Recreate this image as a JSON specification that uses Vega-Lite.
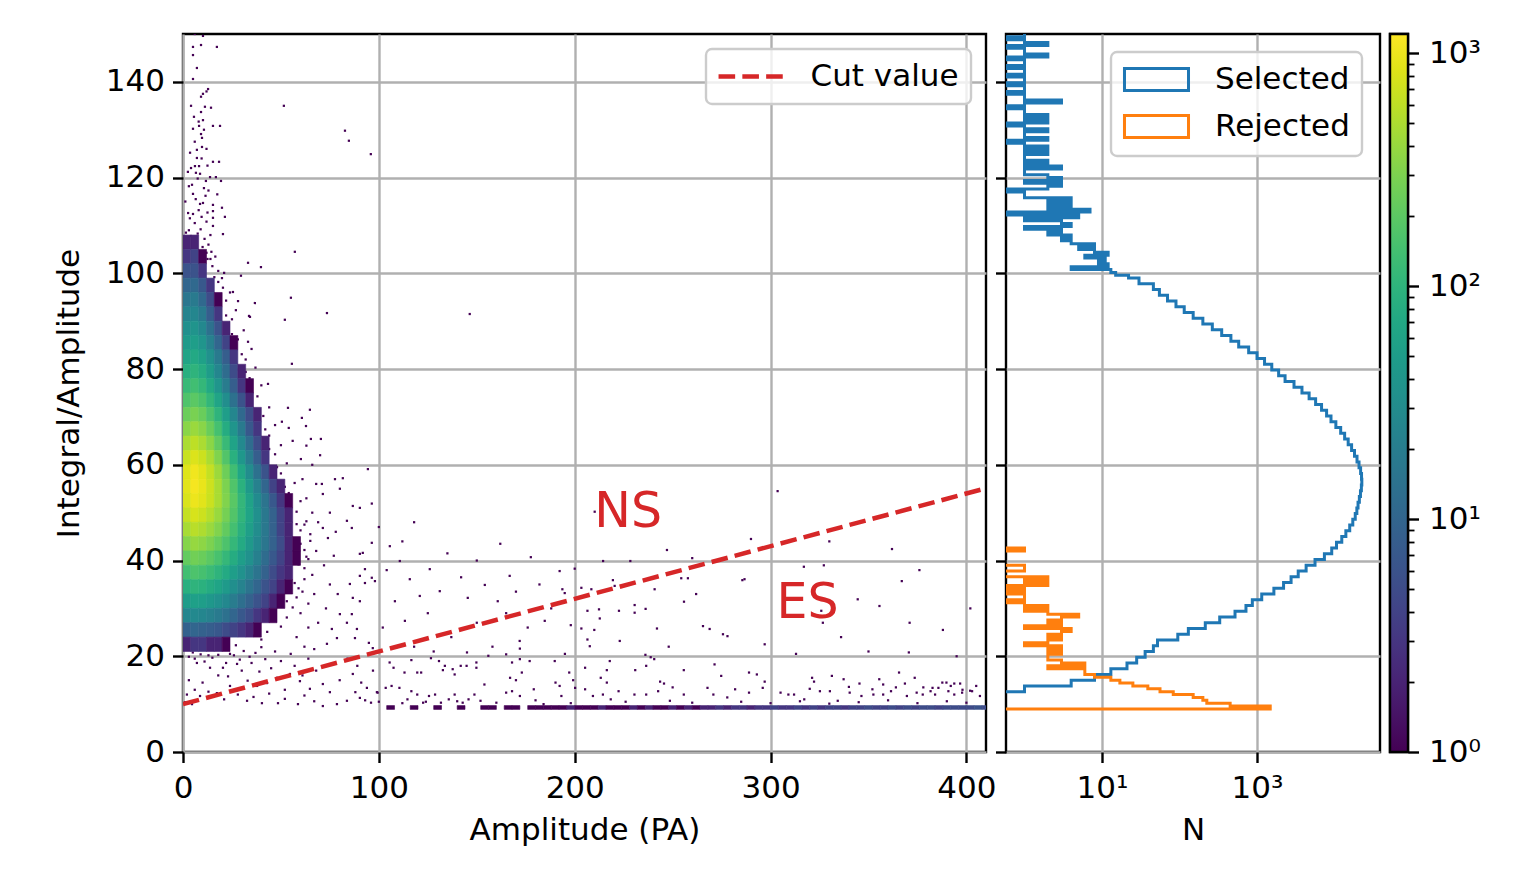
{
"$schema":"https://vega.github.io/schema/vega-lite/v6.json",
"padding":{"left":52,"top":31,"right":5,"bottom":5},
"spacing":20,
"bounds":"flush",
"resolve":{"scale":{"color":"independent","fill":"independent","stroke":"independent"},"legend":{"color":"independent"}},
"hconcat":[
{"width":803,"height":718,
"layer":[
{"data":{"values":[
{"a":10.2,"b":149.6},{"a":5.1,"b":147.3},{"a":9.2,"b":147.7},{"a":17.3,"b":147.3},{"a":5.1,"b":145.6},{"a":7.1,"b":142.9},{"a":5.1,"b":140.6},{"a":12.8,"b":138.5},{"a":10.2,"b":137.5},{"a":9.2,"b":136.9},{"a":51.5,"b":135},{"a":4.1,"b":135},{"a":14.3,"b":134.6},{"a":11.2,"b":134.8},{"a":5.6,"b":132.7},{"a":10.2,"b":132},{"a":9.2,"b":133.7},{"a":15.3,"b":130.8},{"a":18.9,"b":130.8},{"a":5.1,"b":130.2},{"a":8.2,"b":130.8},{"a":10.7,"b":130},{"a":82.7,"b":129.8},{"a":84.7,"b":127.7},{"a":95.9,"b":124.9},{"a":9.7,"b":128.3},{"a":9.2,"b":129.1},{"a":7.1,"b":125.8},{"a":9.7,"b":126.4},{"a":3.6,"b":125.2},{"a":7.1,"b":124.1},{"a":15.3,"b":123.3},{"a":18.4,"b":123.3},{"a":4.1,"b":122},{"a":6.1,"b":122.4},{"a":8.2,"b":122.4},{"a":6.6,"b":121},{"a":8.7,"b":120.8},{"a":13.8,"b":120.1},{"a":11.7,"b":119.3},{"a":16.8,"b":120.1},{"a":19.4,"b":119.3},{"a":10.7,"b":117.8},{"a":4.6,"b":118.5},{"a":5.1,"b":116.6},{"a":8.7,"b":114.5},{"a":10.2,"b":114.7},{"a":15.3,"b":114.3},{"a":19.9,"b":113.7},{"a":21.4,"b":111.8},{"a":15.3,"b":111.6},{"a":20.4,"b":108.2},{"a":15.3,"b":109.9},{"a":15.3,"b":113},{"a":2.6,"b":112.6},{"a":5.1,"b":112.4},{"a":57.1,"b":104.5},{"a":33.2,"b":102.2},{"a":39.8,"b":101.3},{"a":29.6,"b":99.5},{"a":55.1,"b":94.9},{"a":36.7,"b":93.8},{"a":73.5,"b":91.7},{"a":52,"b":90.3},{"a":28.1,"b":94.2},{"a":33.7,"b":91.1},{"a":55.6,"b":81.1},{"a":19.9,"b":99},{"a":20.4,"b":97},{"a":25.5,"b":96.1},
{"a":3,"b":109},{"a":6,"b":110.5},{"a":9,"b":109.2},{"a":12,"b":110.8},{"a":4,"b":107.8},{"a":7.5,"b":108.3},{"a":11,"b":107.2},{"a":13,"b":106},{"a":14.5,"b":104.5},{"a":3.5,"b":111.5},{"a":8,"b":113.2},{"a":12.5,"b":112.7},{"a":6.5,"b":115.5},{"a":11.5,"b":116.2},{"a":3,"b":118.2},{"a":13,"b":117.3},{"a":7.5,"b":119.8},{"a":2.5,"b":121.2},{"a":12.5,"b":122.5},{"a":9.5,"b":124},{"a":6,"b":127.5},{"a":12,"b":126},{"a":8,"b":131.7},{"a":12,"b":138},{"a":6,"b":150},{"a":1.5,"b":108.5},{"a":10,"b":105.5},{"a":12.5,"b":103},{"a":15,"b":101.5},{"a":16.5,"b":103.5},{"a":18,"b":100.5},{"a":9.5,"b":111.8},{"a":1.2,"b":115},{"a":17.5,"b":116.5},{"a":14,"b":108},
{"a":12,"b":104.3},{"a":14,"b":103},{"a":16,"b":99.2},{"a":18,"b":98.2},{"a":21,"b":100.1},{"a":19,"b":95.4},{"a":22,"b":94.3},{"a":24,"b":96},{"a":22,"b":91.2},{"a":25,"b":90.4},{"a":27,"b":92.3},{"a":25,"b":87.3},{"a":28,"b":86.2},{"a":31,"b":88.1},{"a":30,"b":83.1},{"a":32,"b":82},{"a":35,"b":84.2},{"a":32,"b":79.4},{"a":34,"b":78.1},{"a":37,"b":80.3},{"a":35,"b":75.2},{"a":38,"b":74.3},{"a":40,"b":76.6},{"a":38,"b":71.5},{"a":41,"b":70.2},{"a":44,"b":72},{"a":42,"b":67.4},{"a":44,"b":66.1},{"a":47,"b":68.3},{"a":44,"b":63.3},{"a":47,"b":62.2},{"a":50,"b":64.1},{"a":48,"b":59.5},{"a":50,"b":58.2},{"a":53,"b":60.3},{"a":52,"b":55.4},{"a":54,"b":54.1},{"a":57,"b":56.2},{"a":55,"b":51.3},{"a":58,"b":50.2},{"a":60,"b":52.4},{"a":58,"b":47.6},{"a":60,"b":46.3},{"a":63,"b":48.2},{"a":60,"b":43.5},{"a":62,"b":42.2},{"a":65,"b":44.1},{"a":59,"b":39.2},{"a":62,"b":38.4},{"a":64,"b":40.3},{"a":57,"b":35.3},{"a":59,"b":34.2},{"a":62,"b":36.1},{"a":53,"b":31.5},{"a":56,"b":30.2},{"a":58,"b":32.3},{"a":47,"b":27.4},{"a":50,"b":26.2},{"a":53,"b":28.1},{"a":36,"b":24.3},{"a":40,"b":23.5},{"a":43,"b":25.1},
{"a":5,"b":20.8},{"a":13,"b":20.2},{"a":24,"b":20.5},{"a":27,"b":22.3},{"a":31,"b":21.1},{"a":34,"b":19.9},{"a":6,"b":19.5},{"a":11,"b":18.9},{"a":15,"b":19.7},{"a":22,"b":18.6},{"a":29,"b":19.3},{"a":37,"b":20.7},{"a":40,"b":21.9},{"a":18,"b":20.3},{"a":3,"b":19.9},{"a":9,"b":20.4},
{"a":34.2,"b":90.9},{"a":33.2,"b":85.7},{"a":43.4,"b":76.9},{"a":53.6,"b":71.9},{"a":64.8,"b":71.5},{"a":60.7,"b":69.8},{"a":62.8,"b":68.1},{"a":65.3,"b":65.4},{"a":70.4,"b":65.4},{"a":50.5,"b":69},{"a":54,"b":67.7},
{"a":60.2,"b":61.2},{"a":94.4,"b":59.1},{"a":77.6,"b":57},{"a":81.6,"b":57.2},{"a":86.7,"b":51.4},{"a":90.3,"b":51},{"a":96.4,"b":51.9},{"a":96.4,"b":43.7},{"a":70.9,"b":56},{"a":71.4,"b":53.9},{"a":80.1,"b":55},{"a":71.4,"b":46.8},{"a":83.7,"b":48.3},{"a":86.2,"b":46.8},{"a":74,"b":44.7},{"a":90.3,"b":41.4},{"a":91.8,"b":41.6},{"a":92.9,"b":38.2},{"a":90.3,"b":36.8},{"a":96.4,"b":36.4},{"a":92.9,"b":35.3},{"a":85.2,"b":35.1},{"a":86.7,"b":32.2},{"a":86.2,"b":28.8},{"a":88.8,"b":25.7},{"a":87.8,"b":23.8},{"a":94.9,"b":22.8},{"a":96.9,"b":21.7},{"a":80.1,"b":28.8},{"a":83.7,"b":27},{"a":76,"b":25.7},{"a":78.6,"b":23.8},{"a":73.5,"b":22.6},{"a":86.7,"b":16.3},{"a":93.9,"b":13.4},{"a":90.3,"b":11.3},{"a":83.7,"b":10.7},{"a":78.6,"b":10},{"a":71.4,"b":9.6},{"a":58.7,"b":10},{"a":48.5,"b":10.2},{"a":40.3,"b":10.2},{"a":32.7,"b":10.7},{"a":71.4,"b":14.2},{"a":64.8,"b":13.2},{"a":59.7,"b":14.8},{"a":54.6,"b":16.3},{"a":48,"b":15.5},{"a":42.9,"b":14.4},{"a":37.8,"b":13.8},{"a":24,"b":13.8},{"a":17.3,"b":12.3},{"a":8.7,"b":11.7},{"a":4.6,"b":10},{"a":20.4,"b":17.6},{"a":27.6,"b":18.4},{"a":13.8,"b":17.6},{"a":7.1,"b":18.6},
{"a":61,"b":57},{"a":63,"b":53},{"a":66,"b":50},{"a":62,"b":47.5},{"a":65,"b":45.5},{"a":68,"b":42},{"a":63,"b":40.8},{"a":66,"b":37},{"a":61,"b":33.5},{"a":64,"b":31},{"a":60,"b":29},{"a":67,"b":33},{"a":69,"b":48},{"a":72,"b":39},{"a":75,"b":35},{"a":64,"b":26},{"a":58,"b":24},{"a":62,"b":22},{"a":69,"b":27},{"a":73,"b":30},{"a":77,"b":41},{"a":79,"b":33},{"a":66,"b":60},{"a":68,"b":56},{"a":75,"b":50},{"a":78,"b":46},{"a":70,"b":62},{"a":63,"b":64},{"a":56,"b":65},
{"a":3,"b":15},{"a":10,"b":14.5},{"a":18,"b":16},{"a":23,"b":15.8},{"a":26,"b":20.2},{"a":30,"b":17},{"a":33,"b":14.9},{"a":35,"b":18.6},{"a":39,"b":16.8},{"a":42,"b":19.4},{"a":45,"b":17.5},{"a":47,"b":21},{"a":50,"b":19},{"a":52,"b":13},{"a":55,"b":20.5},{"a":57,"b":18},{"a":61,"b":16},{"a":64,"b":19.5},{"a":67,"b":21.5},{"a":68,"b":17},{"a":6,"b":13},{"a":13,"b":12.6},{"a":21,"b":11},{"a":28,"b":12},{"a":36,"b":11.5},{"a":44,"b":12.2},{"a":52,"b":11.1},{"a":62,"b":11.8},{"a":67,"b":10.6},{"a":75,"b":12.5},{"a":80,"b":15},{"a":84,"b":19.5},{"a":89,"b":18},{"a":91,"b":14.5},{"a":97,"b":17},{"a":99,"b":12.5},{"a":1,"b":10.4},{"a":2,"b":12},
{"a":146.4,"b":91.5},{"a":303.6,"b":54.5},{"a":362,"b":42.4},{"a":367,"b":35.7},{"a":355.6,"b":30.5},{"a":286.7,"b":36.1},{"a":268.9,"b":25.7},{"a":278,"b":24.2},{"a":238.8,"b":19.8},{"a":177.6,"b":40.7},{"a":194.9,"b":33.2},{"a":166.8,"b":36.8},{"a":160.7,"b":31.5},{"a":154.1,"b":34.9},{"a":145.4,"b":32.2},{"a":126,"b":38.2},{"a":131.1,"b":33.6},{"a":120.9,"b":32.6},{"a":115.8,"b":36.1},{"a":108.2,"b":31.5},{"a":113.3,"b":27.4},{"a":184.7,"b":27.4},{"a":171.9,"b":23.2},{"a":189.8,"b":19},{"a":207.7,"b":22.1},{"a":223,"b":23.2},{"a":217.9,"b":19},{"a":192.3,"b":13.8},{"a":105.6,"b":43},{"a":110.7,"b":39.9},{"a":98,"b":35.7},{"a":90.3,"b":31.5},
{"a":210.2,"b":50.2},{"a":247.1,"b":42.2},{"a":214.5,"b":39.9},{"a":228.4,"b":39.9},{"a":192.3,"b":37.8},{"a":193.7,"b":34},{"a":203.4,"b":34.3},{"a":208.5,"b":34},{"a":219.5,"b":35.9},{"a":220.4,"b":34.7},{"a":240.8,"b":34},{"a":254.4,"b":36.3},{"a":257.8,"b":36.3},{"a":285.6,"b":35.9},{"a":255.8,"b":31.4},{"a":206.5,"b":29.5},{"a":212.4,"b":29.8},{"a":212.8,"b":27.9},{"a":222.6,"b":29.5},{"a":230.6,"b":30.7},{"a":230.6,"b":29.1},{"a":236.2,"b":29.9},{"a":203.4,"b":25.8},{"a":206.5,"b":23.5},{"a":242,"b":25.8},{"a":265.5,"b":26.3},{"a":275.7,"b":24.6},{"a":317,"b":38.7},{"a":327.2,"b":39},{"a":325.9,"b":29.5},{"a":326.7,"b":27},{"a":344.5,"b":31.9},
{"a":102,"b":26},{"a":118,"b":22},{"a":125,"b":29},{"a":137,"b":24},{"a":142,"b":36.5},{"a":150,"b":27},{"a":158,"b":22},{"a":165,"b":29},{"a":170,"b":33.5},{"a":176,"b":26},{"a":182,"b":35},{"a":188,"b":30},{"a":198,"b":26.5},{"a":104,"b":38},{"a":112,"b":44},{"a":135,"b":41.5},{"a":150,"b":40},{"a":162,"b":43.5},{"a":128,"b":21},{"a":145,"b":20.8},{"a":172,"b":21.6},{"a":200,"b":38.3},{"a":195,"b":20.5},{"a":210,"b":25.5},{"a":248,"b":22},{"a":262,"b":33},{"a":297,"b":22.5},{"a":313,"b":20.5},{"a":336,"b":24},{"a":350,"b":21},{"a":371,"b":27},{"a":388,"b":25.5},{"a":395,"b":20},{"a":402,"b":30},{"a":376,"b":38},{"a":330,"b":44},{"a":290,"b":44.5},{"a":260,"b":40.5},{"a":118,"b":48},{"a":100,"b":47},
{"a":105.5,"b":18.7},{"a":107.5,"b":17.6},{"a":113.1,"b":16.6},{"a":116.6,"b":19.2},{"a":119.6,"b":16.6},{"a":121.6,"b":16.6},{"a":126.6,"b":19.6},{"a":130.7,"b":19},{"a":132.7,"b":17.1},{"a":133.7,"b":18},{"a":137.7,"b":17.3},{"a":138.7,"b":16.2},{"a":141.8,"b":18},{"a":144.8,"b":18},{"a":149.8,"b":18.7},{"a":149.8,"b":17.6},{"a":155.9,"b":20.1},{"a":165,"b":20.4},{"a":168,"b":18.7},{"a":172,"b":19.4},{"a":173,"b":16.6},{"a":177,"b":19},{"a":167,"b":15.5},{"a":170,"b":15},{"a":190.2,"b":14.5},{"a":197.2,"b":16.6},{"a":199.2,"b":15},{"a":205.3,"b":17.6},{"a":213.3,"b":15.5},{"a":216.4,"b":17.1},{"a":216.4,"b":14.5},{"a":230.9,"b":17.1},{"a":236.5,"b":18},{"a":240.6,"b":19.4},{"a":236.1,"b":20.3},{"a":243.6,"b":14.7},{"a":245.6,"b":14.3},{"a":255.7,"b":17.1},{"a":271.4,"b":18.3},{"a":274.8,"b":15.9},{"a":289,"b":16.6},{"a":293,"b":16.2},{"a":297,"b":14.7},{"a":321.2,"b":15.5},{"a":322.2,"b":14.7},{"a":331.3,"b":15.9},{"a":337.3,"b":15.2},{"a":345.4,"b":14.3},{"a":355.5,"b":15.2},{"a":365.6,"b":16.6},{"a":368.6,"b":14.3},{"a":373.6,"b":15.5},{"a":357.5,"b":14.1},{"a":382.7,"b":13.4},{"a":389.8,"b":14.5},{"a":393.8,"b":14.3},{"a":396.8,"b":14.3},{"a":401.9,"b":12.8},{"a":370.6,"b":20.8},
{"a":99.4,"b":12.4},{"a":103.5,"b":13.4},{"a":106.5,"b":13.8},{"a":110.5,"b":13.4},{"a":114.6,"b":11},{"a":116.6,"b":12.7},{"a":119.6,"b":12},{"a":122.6,"b":10.3},{"a":125.6,"b":11.7},{"a":128.7,"b":12},{"a":131.7,"b":10.3},{"a":135.7,"b":11},{"a":138.7,"b":12},{"a":142.8,"b":10.3},{"a":145.8,"b":11},{"a":148.8,"b":12},{"a":151.9,"b":10.7},{"a":153.9,"b":14.1},{"a":165,"b":12.4},{"a":168,"b":12.7},{"a":172,"b":11.7},{"a":179.1,"b":13.1},{"a":184.1,"b":10},{"a":193.2,"b":11.7},{"a":200.2,"b":13.4},{"a":205.3,"b":13.1},{"a":209.3,"b":11.7},{"a":214.4,"b":12},{"a":218.4,"b":11},{"a":222.4,"b":12.7},{"a":230.5,"b":12},{"a":236.5,"b":12},{"a":242.6,"b":12.7},{"a":248.6,"b":10.7},{"a":255.7,"b":12},{"a":267.8,"b":13.4},{"a":270.8,"b":12},{"a":277.9,"b":11.4},{"a":281.9,"b":13.1},{"a":289,"b":12.4},{"a":296,"b":13.4},{"a":305.1,"b":12.4},{"a":309.1,"b":12},{"a":317.2,"b":11},{"a":325.2,"b":12.7},{"a":330.3,"b":12.7},{"a":334.3,"b":10.7},{"a":340.4,"b":12.4},{"a":346.4,"b":11.7},{"a":352.5,"b":12},{"a":357.5,"b":12},{"a":361.5,"b":12.7},{"a":369.6,"b":11.7},{"a":374.6,"b":12.4},{"a":377.7,"b":12},{"a":381.7,"b":12.7},{"a":385.7,"b":13.4},{"a":387.7,"b":14.5},{"a":390.8,"b":12.7},{"a":393.8,"b":12},{"a":397.8,"b":12.4},{"a":402.9,"b":12.7},{"a":406.9,"b":11.7},
{"a":260,"b":10.3},{"a":285,"b":10.5},{"a":300,"b":10.2},{"a":315,"b":10.6},{"a":330,"b":10.1},{"a":345,"b":10.4},{"a":360,"b":10.8},{"a":375,"b":10.2},{"a":390,"b":10.6},{"a":400,"b":10.3},{"a":405,"b":13.8},{"a":398,"b":13},{"a":392,"b":13.8},{"a":384,"b":12},{"a":378,"b":13.5},{"a":364,"b":13.5},{"a":352,"b":13.1},{"a":340,"b":13.6},{"a":320,"b":13.2},{"a":312,"b":12},{"a":250,"b":13.5},{"a":226,"b":10.5},{"a":198,"b":10.2},{"a":180,"b":10.8},{"a":160,"b":10.3},{"a":140,"b":10.6},{"a":100,"b":10.5},{"a":112,"b":10.2},{"a":124,"b":10.5},{"a":96,"b":10.3},{"a":88,"b":12.5},{"a":93,"b":10.8}
]},
"mark":{"type":"square","size":5,"color":"#440154","opacity":1,"clip":true},
"encoding":{
"x":{"field":"a","type":"quantitative","scale":{"domain":[0,410],"nice":false},"axis":{"values":[0,100,200,300,400]},"title":"Amplitude (PA)"},
"y":{"field":"b","type":"quantitative","scale":{"domain":[0,150],"nice":false},"axis":{"values":[0,20,40,60,80,100,120,140]},"title":"Integral/Amplitude"}}},
{"data":{"values":[
{"a":2,"b":106.5,"n":2},{"a":6,"b":106.5,"n":2},
{"a":2,"b":103.5,"n":3},{"a":6,"b":103.5,"n":4},{"a":10,"b":103.5,"n":1},
{"a":2,"b":100.5,"n":6},{"a":6,"b":100.5,"n":6},{"a":10,"b":100.5,"n":3},
{"a":2,"b":97.5,"n":10},{"a":6,"b":97.5,"n":11},{"a":10,"b":97.5,"n":7},{"a":14,"b":97.5,"n":3},
{"a":2,"b":94.5,"n":16},{"a":6,"b":94.5,"n":18},{"a":10,"b":94.5,"n":11},{"a":14,"b":94.5,"n":5},{"a":18,"b":94.5,"n":1},
{"a":2,"b":91.5,"n":24},{"a":6,"b":91.5,"n":26},{"a":10,"b":91.5,"n":18},{"a":14,"b":91.5,"n":8},{"a":18,"b":91.5,"n":3},
{"a":2,"b":88.5,"n":34},{"a":6,"b":88.5,"n":38},{"a":10,"b":88.5,"n":27},{"a":14,"b":88.5,"n":14},{"a":18,"b":88.5,"n":6},{"a":22,"b":88.5,"n":2},
{"a":2,"b":85.5,"n":47},{"a":6,"b":85.5,"n":52},{"a":10,"b":85.5,"n":40},{"a":14,"b":85.5,"n":22},{"a":18,"b":85.5,"n":10},{"a":22,"b":85.5,"n":4},{"a":26,"b":85.5,"n":1},
{"a":2,"b":82.5,"n":63},{"a":6,"b":82.5,"n":72},{"a":10,"b":82.5,"n":57},{"a":14,"b":82.5,"n":35},{"a":18,"b":82.5,"n":18},{"a":22,"b":82.5,"n":8},{"a":26,"b":82.5,"n":3},
{"a":2,"b":79.5,"n":87},{"a":6,"b":79.5,"n":100},{"a":10,"b":79.5,"n":79},{"a":14,"b":79.5,"n":50},{"a":18,"b":79.5,"n":26},{"a":22,"b":79.5,"n":12},{"a":26,"b":79.5,"n":5},{"a":30,"b":79.5,"n":2},
{"a":2,"b":76.5,"n":120},{"a":6,"b":76.5,"n":138},{"a":10,"b":76.5,"n":112},{"a":14,"b":76.5,"n":72},{"a":18,"b":76.5,"n":40},{"a":22,"b":76.5,"n":19},{"a":26,"b":76.5,"n":8},{"a":30,"b":76.5,"n":3},{"a":34,"b":76.5,"n":1},
{"a":2,"b":73.5,"n":170},{"a":6,"b":73.5,"n":200},{"a":10,"b":73.5,"n":163},{"a":14,"b":73.5,"n":109},{"a":18,"b":73.5,"n":63},{"a":22,"b":73.5,"n":32},{"a":26,"b":73.5,"n":14},{"a":30,"b":73.5,"n":6},{"a":34,"b":73.5,"n":2},
{"a":2,"b":70.5,"n":245},{"a":6,"b":70.5,"n":288},{"a":10,"b":70.5,"n":240},{"a":14,"b":70.5,"n":165},{"a":18,"b":70.5,"n":99},{"a":22,"b":70.5,"n":52},{"a":26,"b":70.5,"n":26},{"a":30,"b":70.5,"n":11},{"a":34,"b":70.5,"n":5},{"a":38,"b":70.5,"n":2},
{"a":2,"b":67.5,"n":347},{"a":6,"b":67.5,"n":417},{"a":10,"b":67.5,"n":347},{"a":14,"b":67.5,"n":240},{"a":18,"b":67.5,"n":148},{"a":22,"b":67.5,"n":80},{"a":26,"b":67.5,"n":40},{"a":30,"b":67.5,"n":18},{"a":34,"b":67.5,"n":7},{"a":38,"b":67.5,"n":3},
{"a":2,"b":64.5,"n":500},{"a":6,"b":64.5,"n":603},{"a":10,"b":64.5,"n":500},{"a":14,"b":64.5,"n":355},{"a":18,"b":64.5,"n":218},{"a":22,"b":64.5,"n":121},{"a":26,"b":64.5,"n":61},{"a":30,"b":64.5,"n":28},{"a":34,"b":64.5,"n":12},{"a":38,"b":64.5,"n":5},{"a":42,"b":64.5,"n":2},
{"a":2,"b":61.5,"n":680},{"a":6,"b":61.5,"n":832},{"a":10,"b":61.5,"n":705},{"a":14,"b":61.5,"n":500},{"a":18,"b":61.5,"n":312},{"a":22,"b":61.5,"n":177},{"a":26,"b":61.5,"n":90},{"a":30,"b":61.5,"n":43},{"a":34,"b":61.5,"n":19},{"a":38,"b":61.5,"n":8},{"a":42,"b":61.5,"n":3},
{"a":2,"b":58.5,"n":850},{"a":6,"b":58.5,"n":1047},{"a":10,"b":58.5,"n":900},{"a":14,"b":58.5,"n":650},{"a":18,"b":58.5,"n":425},{"a":22,"b":58.5,"n":250},{"a":26,"b":58.5,"n":137},{"a":30,"b":58.5,"n":68},{"a":34,"b":58.5,"n":31},{"a":38,"b":58.5,"n":14},{"a":42,"b":58.5,"n":6},{"a":46,"b":58.5,"n":2},
{"a":2,"b":55.5,"n":890},{"a":6,"b":55.5,"n":1096},{"a":10,"b":55.5,"n":955},{"a":14,"b":55.5,"n":715},{"a":18,"b":55.5,"n":490},{"a":22,"b":55.5,"n":300},{"a":26,"b":55.5,"n":173},{"a":30,"b":55.5,"n":92},{"a":34,"b":55.5,"n":46},{"a":38,"b":55.5,"n":22},{"a":42,"b":55.5,"n":10},{"a":46,"b":55.5,"n":4},{"a":50,"b":55.5,"n":2},
{"a":2,"b":52.5,"n":813},{"a":6,"b":52.5,"n":1000},{"a":10,"b":52.5,"n":890},{"a":14,"b":52.5,"n":690},{"a":18,"b":52.5,"n":490},{"a":22,"b":52.5,"n":316},{"a":26,"b":52.5,"n":194},{"a":30,"b":52.5,"n":110},{"a":34,"b":52.5,"n":60},{"a":38,"b":52.5,"n":30},{"a":42,"b":52.5,"n":15},{"a":46,"b":52.5,"n":7},{"a":50,"b":52.5,"n":3},{"a":54,"b":52.5,"n":1},
{"a":2,"b":49.5,"n":650},{"a":6,"b":49.5,"n":794},{"a":10,"b":49.5,"n":710},{"a":14,"b":49.5,"n":560},{"a":18,"b":49.5,"n":410},{"a":22,"b":49.5,"n":277},{"a":26,"b":49.5,"n":178},{"a":30,"b":49.5,"n":107},{"a":34,"b":49.5,"n":62},{"a":38,"b":49.5,"n":34},{"a":42,"b":49.5,"n":17},{"a":46,"b":49.5,"n":9},{"a":50,"b":49.5,"n":4},{"a":54,"b":49.5,"n":2},
{"a":2,"b":46.5,"n":478},{"a":6,"b":46.5,"n":575},{"a":10,"b":46.5,"n":513},{"a":14,"b":46.5,"n":417},{"a":18,"b":46.5,"n":316},{"a":22,"b":46.5,"n":219},{"a":26,"b":46.5,"n":145},{"a":30,"b":46.5,"n":91},{"a":34,"b":46.5,"n":54},{"a":38,"b":46.5,"n":31},{"a":42,"b":46.5,"n":17},{"a":46,"b":46.5,"n":9},{"a":50,"b":46.5,"n":4},{"a":54,"b":46.5,"n":2},
{"a":2,"b":43.5,"n":331},{"a":6,"b":43.5,"n":398},{"a":10,"b":43.5,"n":363},{"a":14,"b":43.5,"n":300},{"a":18,"b":43.5,"n":229},{"a":22,"b":43.5,"n":165},{"a":26,"b":43.5,"n":113},{"a":30,"b":43.5,"n":74},{"a":34,"b":43.5,"n":46},{"a":38,"b":43.5,"n":27},{"a":42,"b":43.5,"n":16},{"a":46,"b":43.5,"n":9},{"a":50,"b":43.5,"n":5},{"a":54,"b":43.5,"n":2},{"a":58,"b":43.5,"n":1},
{"a":2,"b":40.5,"n":222},{"a":6,"b":40.5,"n":263},{"a":10,"b":40.5,"n":240},{"a":14,"b":40.5,"n":200},{"a":18,"b":40.5,"n":155},{"a":22,"b":40.5,"n":114},{"a":26,"b":40.5,"n":80},{"a":30,"b":40.5,"n":53},{"a":34,"b":40.5,"n":35},{"a":38,"b":40.5,"n":21},{"a":42,"b":40.5,"n":12},{"a":46,"b":40.5,"n":7},{"a":50,"b":40.5,"n":4},{"a":54,"b":40.5,"n":2},{"a":58,"b":40.5,"n":1},
{"a":2,"b":37.5,"n":141},{"a":6,"b":37.5,"n":166},{"a":10,"b":37.5,"n":151},{"a":14,"b":37.5,"n":126},{"a":18,"b":37.5,"n":100},{"a":22,"b":37.5,"n":74},{"a":26,"b":37.5,"n":53},{"a":30,"b":37.5,"n":36},{"a":34,"b":37.5,"n":23},{"a":38,"b":37.5,"n":15},{"a":42,"b":37.5,"n":9},{"a":46,"b":37.5,"n":5},{"a":50,"b":37.5,"n":3},{"a":54,"b":37.5,"n":2},
{"a":2,"b":34.5,"n":87},{"a":6,"b":34.5,"n":100},{"a":10,"b":34.5,"n":92},{"a":14,"b":34.5,"n":78},{"a":18,"b":34.5,"n":62},{"a":22,"b":34.5,"n":47},{"a":26,"b":34.5,"n":33},{"a":30,"b":34.5,"n":23},{"a":34,"b":34.5,"n":15},{"a":38,"b":34.5,"n":10},{"a":42,"b":34.5,"n":6},{"a":46,"b":34.5,"n":4},{"a":50,"b":34.5,"n":2},{"a":54,"b":34.5,"n":1},
{"a":2,"b":31.5,"n":50},{"a":6,"b":31.5,"n":56},{"a":10,"b":31.5,"n":52},{"a":14,"b":31.5,"n":44},{"a":18,"b":31.5,"n":35},{"a":22,"b":31.5,"n":27},{"a":26,"b":31.5,"n":19},{"a":30,"b":31.5,"n":13},{"a":34,"b":31.5,"n":9},{"a":38,"b":31.5,"n":6},{"a":42,"b":31.5,"n":4},{"a":46,"b":31.5,"n":2},{"a":50,"b":31.5,"n":1},
{"a":2,"b":28.5,"n":26},{"a":6,"b":28.5,"n":28},{"a":10,"b":28.5,"n":26},{"a":14,"b":28.5,"n":22},{"a":18,"b":28.5,"n":18},{"a":22,"b":28.5,"n":14},{"a":26,"b":28.5,"n":10},{"a":30,"b":28.5,"n":7},{"a":34,"b":28.5,"n":5},{"a":38,"b":28.5,"n":3},{"a":42,"b":28.5,"n":2},{"a":46,"b":28.5,"n":1},
{"a":2,"b":25.5,"n":9},{"a":6,"b":25.5,"n":10},{"a":10,"b":25.5,"n":9},{"a":14,"b":25.5,"n":8},{"a":18,"b":25.5,"n":7},{"a":22,"b":25.5,"n":5},{"a":26,"b":25.5,"n":4},{"a":30,"b":25.5,"n":3},{"a":34,"b":25.5,"n":2},{"a":38,"b":25.5,"n":1},
{"a":2,"b":22.5,"n":2},{"a":6,"b":22.5,"n":3},{"a":10,"b":22.5,"n":3},{"a":14,"b":22.5,"n":2},{"a":18,"b":22.5,"n":2},{"a":22,"b":22.5,"n":1}
]},
"transform":[{"bin":{"step":4,"extent":[0,412]},"field":"a","as":["a0","a1"]},{"bin":{"step":3,"extent":[0,150]},"field":"b","as":["b0","b1"]}],
"mark":{"type":"rect","strokeWidth":0.6,"clip":true},
"encoding":{
"x":{"field":"a0","type":"quantitative","scale":{"domain":[0,410],"nice":false},"title":"Amplitude (PA)"},
"x2":{"field":"a1"},
"y":{"field":"b0","type":"quantitative","scale":{"domain":[0,150],"nice":false},"title":"Integral/Amplitude"},
"y2":{"field":"b1"},
"fill":{"field":"n","type":"quantitative","scale":{"type":"log","domain":[1,1210],"scheme":"viridis"},"legend":null},
"stroke":{"field":"n","type":"quantitative","scale":{"type":"log","domain":[1,1210],"scheme":"viridis"},"legend":null}}},
{"data":{"values":[
{"a":106,"n":1},{"a":118,"n":1},{"a":130,"n":1},{"a":142,"n":1},{"a":154,"n":1},{"a":158,"n":1},{"a":166,"n":1},{"a":170,"n":1},{"a":178,"n":1},{"a":182,"n":1},{"a":186,"n":1},
{"a":190,"n":1},{"a":194,"n":1},{"a":198,"n":2},{"a":202,"n":1},{"a":206,"n":1},{"a":210,"n":1},{"a":214,"n":2},{"a":218,"n":1},{"a":222,"n":1},{"a":226,"n":1},{"a":230,"n":2},{"a":234,"n":1},{"a":238,"n":2},{"a":242,"n":1},{"a":246,"n":1},{"a":250,"n":2},{"a":254,"n":1},{"a":258,"n":2},{"a":262,"n":1},{"a":266,"n":2},{"a":270,"n":2},
{"a":274,"n":3},{"a":278,"n":2},{"a":282,"n":3},{"a":286,"n":3},{"a":290,"n":2},{"a":294,"n":3},{"a":298,"n":3},{"a":302,"n":4},{"a":306,"n":3},{"a":310,"n":3},{"a":314,"n":4},{"a":318,"n":3},{"a":322,"n":4},{"a":326,"n":3},{"a":330,"n":4},{"a":334,"n":4},{"a":338,"n":3},{"a":342,"n":4},{"a":346,"n":4},{"a":350,"n":5},{"a":354,"n":4},{"a":358,"n":4},{"a":362,"n":5},{"a":366,"n":4},{"a":370,"n":5},{"a":374,"n":4},{"a":378,"n":5},{"a":382,"n":5},{"a":386,"n":4},{"a":390,"n":5},{"a":394,"n":5},{"a":398,"n":5},{"a":402,"n":5},{"a":406,"n":6},{"a":410,"n":5}
]},
"transform":[{"bin":{"step":4,"extent":[0,412]},"field":"a","as":["a0","a1"]}],
"mark":{"type":"rect","strokeWidth":0.6,"clip":true},
"encoding":{
"x":{"field":"a0","type":"quantitative","scale":{"domain":[0,410],"nice":false},"title":"Amplitude (PA)"},
"x2":{"field":"a1"},
"y":{"datum":8.9,"type":"quantitative","scale":{"domain":[0,150],"nice":false},"title":"Integral/Amplitude"},
"y2":{"datum":9.7},
"fill":{"field":"n","type":"quantitative","scale":{"type":"log","domain":[1,1210],"scheme":"viridis"},"legend":null},
"stroke":{"field":"n","type":"quantitative","scale":{"type":"log","domain":[1,1210],"scheme":"viridis"},"legend":null}}},
{"data":{"values":[{"a":0,"b":10,"s":"Cut value"},{"a":410,"b":55.1,"s":"Cut value"}]},
"mark":{"type":"line","strokeWidth":4.5,"strokeDash":[16.6,7.2],"clip":true},
"encoding":{
"x":{"field":"a","type":"quantitative","scale":{"domain":[0,410],"nice":false},"title":"Amplitude (PA)"},
"y":{"field":"b","type":"quantitative","scale":{"domain":[0,150],"nice":false},"title":"Integral/Amplitude"},
"color":{"field":"s","type":"nominal","scale":{"domain":["Cut value"],"range":["#d62728"]},
"legend":{"title":null,"orient":"top-right","offset":15,"padding":12,"symbolType":"M-2.95,0H2.95","symbolSize":484,"symbolOffset":17.5,"symbolStrokeWidth":4.5,"symbolDash":[16.6,7.2],"labelOffset":44,"labelFont":"DejaVu Sans","labelFontSize":31,"labelColor":"black","fillColor":"rgba(255,255,255,0.8)","strokeColor":"#cccccc","cornerRadius":6}}}},
{"data":{"values":[{"a":210,"b":47,"t":"NS"},{"a":303,"b":28,"t":"ES"}]},
"mark":{"type":"text","font":"DejaVu Sans","fontSize":49,"color":"#d62728","align":"left","baseline":"alphabetic"},
"encoding":{
"x":{"field":"a","type":"quantitative","scale":{"domain":[0,410],"nice":false},"title":"Amplitude (PA)"},
"y":{"field":"b","type":"quantitative","scale":{"domain":[0,150],"nice":false},"title":"Integral/Amplitude"},
"text":{"field":"t"}}}
]},
{"hconcat":[
{"width":374,"height":718,
"data":{"values":[
{"y":12.0,"c":0.1,"g":"Selected"},{"y":12.6,"c":1,"g":"Selected"},{"y":13.8,"c":4,"g":"Selected"},{"y":15.0,"c":8,"g":"Selected"},{"y":16.2,"c":13,"g":"Selected"},{"y":17.4,"c":21,"g":"Selected"},{"y":18.6,"c":28,"g":"Selected"},{"y":19.8,"c":36,"g":"Selected"},{"y":21.0,"c":46,"g":"Selected"},{"y":22.2,"c":52,"g":"Selected"},{"y":23.4,"c":95,"g":"Selected"},{"y":24.6,"c":130,"g":"Selected"},{"y":25.8,"c":215,"g":"Selected"},{"y":27.0,"c":330,"g":"Selected"},{"y":28.2,"c":520,"g":"Selected"},{"y":29.4,"c":720,"g":"Selected"},{"y":30.6,"c":870,"g":"Selected"},{"y":31.8,"c":1150,"g":"Selected"},{"y":33.0,"c":1650,"g":"Selected"},{"y":34.2,"c":2200,"g":"Selected"},{"y":35.4,"c":2750,"g":"Selected"},{"y":36.6,"c":3400,"g":"Selected"},{"y":37.8,"c":4300,"g":"Selected"},{"y":39.0,"c":5600,"g":"Selected"},{"y":40.2,"c":7400,"g":"Selected"},{"y":41.4,"c":9200,"g":"Selected"},{"y":42.6,"c":10600,"g":"Selected"},{"y":43.8,"c":12400,"g":"Selected"},{"y":45.0,"c":14000,"g":"Selected"},{"y":46.2,"c":15700,"g":"Selected"},{"y":47.4,"c":17200,"g":"Selected"},{"y":48.6,"c":18500,"g":"Selected"},{"y":49.8,"c":19400,"g":"Selected"},{"y":51.0,"c":20100,"g":"Selected"},{"y":52.2,"c":20900,"g":"Selected"},{"y":53.4,"c":21600,"g":"Selected"},{"y":54.6,"c":22200,"g":"Selected"},{"y":55.8,"c":22500,"g":"Selected"},{"y":57.0,"c":22300,"g":"Selected"},{"y":58.2,"c":21700,"g":"Selected"},{"y":59.4,"c":20700,"g":"Selected"},{"y":60.6,"c":19500,"g":"Selected"},{"y":61.8,"c":18100,"g":"Selected"},{"y":63.0,"c":16600,"g":"Selected"},{"y":64.2,"c":15000,"g":"Selected"},{"y":65.4,"c":13500,"g":"Selected"},{"y":66.6,"c":12000,"g":"Selected"},{"y":67.8,"c":10400,"g":"Selected"},{"y":69.0,"c":9000,"g":"Selected"},{"y":70.2,"c":7900,"g":"Selected"},{"y":71.4,"c":6800,"g":"Selected"},{"y":72.6,"c":5700,"g":"Selected"},{"y":73.8,"c":4700,"g":"Selected"},{"y":75.0,"c":3800,"g":"Selected"},{"y":76.2,"c":3000,"g":"Selected"},{"y":77.4,"c":2300,"g":"Selected"},{"y":78.6,"c":1900,"g":"Selected"},{"y":79.8,"c":1550,"g":"Selected"},{"y":81.0,"c":1250,"g":"Selected"},{"y":82.2,"c":1000,"g":"Selected"},{"y":83.4,"c":780,"g":"Selected"},{"y":84.6,"c":580,"g":"Selected"},{"y":85.8,"c":460,"g":"Selected"},{"y":87.0,"c":350,"g":"Selected"},{"y":88.2,"c":265,"g":"Selected"},{"y":89.4,"c":200,"g":"Selected"},{"y":90.6,"c":150,"g":"Selected"},{"y":91.8,"c":115,"g":"Selected"},{"y":93.0,"c":90,"g":"Selected"},{"y":94.2,"c":70,"g":"Selected"},{"y":95.4,"c":55,"g":"Selected"},{"y":96.6,"c":46,"g":"Selected"},{"y":97.8,"c":30,"g":"Selected"},{"y":99.0,"c":22,"g":"Selected"},{"y":99.6,"c":15,"g":"Selected"},
{"y":100.2,"c":13,"g":"Selected"},{"y":100.8,"c":4,"g":"Selected"},{"y":101.4,"c":12,"g":"Selected"},{"y":102.0,"c":9,"g":"Selected"},{"y":102.6,"c":11,"g":"Selected"},{"y":103.2,"c":6,"g":"Selected"},{"y":103.8,"c":12,"g":"Selected"},{"y":104.4,"c":8,"g":"Selected"},{"y":105.0,"c":5,"g":"Selected"},{"y":105.6,"c":8,"g":"Selected"},{"y":106.2,"c":4,"g":"Selected"},{"y":106.8,"c":3,"g":"Selected"},{"y":107.4,"c":4,"g":"Selected"},{"y":108.0,"c":2,"g":"Selected"},{"y":108.6,"c":3,"g":"Selected"},{"y":109.2,"c":1,"g":"Selected"},{"y":109.8,"c":4,"g":"Selected"},{"y":110.4,"c":3,"g":"Selected"},{"y":111.0,"c":1,"g":"Selected"},{"y":111.6,"c":5,"g":"Selected"},{"y":112.2,"c":0.1,"g":"Selected"},{"y":112.8,"c":7,"g":"Selected"},{"y":113.4,"c":2,"g":"Selected"},{"y":114.0,"c":4,"g":"Selected"},{"y":114.6,"c":2,"g":"Selected"},{"y":115.2,"c":4,"g":"Selected"},{"y":115.8,"c":1,"g":"Selected"},{"y":116.4,"c":1,"g":"Selected"},{"y":117.0,"c":0.1,"g":"Selected"},{"y":117.6,"c":2,"g":"Selected"},{"y":118.2,"c":3,"g":"Selected"},{"y":118.8,"c":1,"g":"Selected"},{"y":119.4,"c":3,"g":"Selected"},{"y":120.0,"c":2,"g":"Selected"},{"y":120.6,"c":1,"g":"Selected"},{"y":121.2,"c":1,"g":"Selected"},{"y":121.8,"c":3,"g":"Selected"},{"y":122.4,"c":1,"g":"Selected"},{"y":123.0,"c":2,"g":"Selected"},{"y":123.6,"c":1,"g":"Selected"},{"y":124.2,"c":1,"g":"Selected"},{"y":124.8,"c":2,"g":"Selected"},{"y":125.4,"c":1,"g":"Selected"},{"y":126.0,"c":2,"g":"Selected"},{"y":126.6,"c":1,"g":"Selected"},{"y":127.2,"c":0.1,"g":"Selected"},{"y":127.8,"c":2,"g":"Selected"},{"y":128.4,"c":1,"g":"Selected"},{"y":129.0,"c":1,"g":"Selected"},{"y":129.6,"c":2,"g":"Selected"},{"y":130.2,"c":1,"g":"Selected"},{"y":130.8,"c":0.1,"g":"Selected"},{"y":131.4,"c":2,"g":"Selected"},{"y":132.0,"c":1,"g":"Selected"},{"y":132.6,"c":2,"g":"Selected"},{"y":133.2,"c":1,"g":"Selected"},{"y":133.8,"c":1,"g":"Selected"},{"y":134.4,"c":0.1,"g":"Selected"},{"y":135.0,"c":1,"g":"Selected"},{"y":135.6,"c":3,"g":"Selected"},{"y":136.2,"c":1,"g":"Selected"},{"y":136.8,"c":1,"g":"Selected"},{"y":137.4,"c":0.1,"g":"Selected"},{"y":138.0,"c":1,"g":"Selected"},{"y":138.6,"c":1,"g":"Selected"},{"y":139.2,"c":0.1,"g":"Selected"},{"y":139.8,"c":1,"g":"Selected"},{"y":140.4,"c":1,"g":"Selected"},{"y":141.0,"c":0.1,"g":"Selected"},{"y":141.6,"c":1,"g":"Selected"},{"y":142.2,"c":1,"g":"Selected"},{"y":142.8,"c":0.1,"g":"Selected"},{"y":143.4,"c":1,"g":"Selected"},{"y":144.0,"c":1,"g":"Selected"},{"y":144.6,"c":0.1,"g":"Selected"},{"y":145.2,"c":2,"g":"Selected"},{"y":145.8,"c":1,"g":"Selected"},{"y":146.4,"c":1,"g":"Selected"},{"y":147.0,"c":0.1,"g":"Selected"},{"y":147.6,"c":2,"g":"Selected"},{"y":148.2,"c":1,"g":"Selected"},{"y":148.8,"c":0.1,"g":"Selected"},{"y":149.4,"c":1,"g":"Selected"},{"y":150.0,"c":1,"g":"Selected"},{"y":150.6,"c":0.1,"g":"Selected"},
{"y":8.4,"c":0.1,"g":"Rejected"},{"y":9.0,"c":1480,"g":"Rejected"},{"y":9.6,"c":450,"g":"Rejected"},{"y":10.2,"c":225,"g":"Rejected"},{"y":10.8,"c":200,"g":"Rejected"},{"y":11.4,"c":150,"g":"Rejected"},{"y":12.0,"c":83,"g":"Rejected"},{"y":12.6,"c":56,"g":"Rejected"},{"y":13.2,"c":39,"g":"Rejected"},{"y":13.8,"c":25,"g":"Rejected"},{"y":14.4,"c":17,"g":"Rejected"},{"y":15.0,"c":13,"g":"Rejected"},{"y":15.6,"c":8,"g":"Rejected"},{"y":16.2,"c":6,"g":"Rejected"},{"y":16.8,"c":6,"g":"Rejected"},{"y":17.4,"c":2,"g":"Rejected"},{"y":18.0,"c":6,"g":"Rejected"},{"y":18.6,"c":3,"g":"Rejected"},{"y":19.2,"c":2,"g":"Rejected"},{"y":19.8,"c":2,"g":"Rejected"},{"y":20.4,"c":3,"g":"Rejected"},{"y":21.0,"c":2,"g":"Rejected"},{"y":21.6,"c":3,"g":"Rejected"},{"y":22.2,"c":1,"g":"Rejected"},{"y":22.8,"c":2,"g":"Rejected"},{"y":23.4,"c":3,"g":"Rejected"},{"y":24.0,"c":2,"g":"Rejected"},{"y":24.6,"c":3,"g":"Rejected"},{"y":25.2,"c":4,"g":"Rejected"},{"y":25.8,"c":1,"g":"Rejected"},{"y":26.4,"c":3,"g":"Rejected"},{"y":27.0,"c":2,"g":"Rejected"},{"y":27.6,"c":3,"g":"Rejected"},{"y":28.2,"c":5,"g":"Rejected"},{"y":28.8,"c":2,"g":"Rejected"},{"y":29.4,"c":1,"g":"Rejected"},{"y":30.0,"c":2,"g":"Rejected"},{"y":30.6,"c":1,"g":"Rejected"},{"y":31.2,"c":0.1,"g":"Rejected"},{"y":31.8,"c":1,"g":"Rejected"},{"y":32.4,"c":1,"g":"Rejected"},{"y":33.0,"c":0.1,"g":"Rejected"},{"y":33.6,"c":1,"g":"Rejected"},{"y":34.2,"c":0.1,"g":"Rejected"},{"y":34.8,"c":2,"g":"Rejected"},{"y":35.4,"c":1,"g":"Rejected"},{"y":36.0,"c":2,"g":"Rejected"},{"y":36.6,"c":0.1,"g":"Rejected"},{"y":37.8,"c":1,"g":"Rejected"},{"y":38.4,"c":1,"g":"Rejected"},{"y":39.0,"c":0.1,"g":"Rejected"},{"y":42.0,"c":1,"g":"Rejected"},{"y":42.6,"c":0.1,"g":"Rejected"}
]},
"mark":{"type":"line","interpolate":"step-before","strokeWidth":3,"clip":true},
"encoding":{
"x":{"field":"c","type":"quantitative","scale":{"type":"log","domain":[0.577,38600],"nice":false},"axis":{"values":[10,1000],"labelExpr":"datum.value == 10 ? '10¹' : datum.value == 1000 ? '10³' : ''"},"title":"N"},
"y":{"field":"y","type":"quantitative","scale":{"domain":[0,150],"nice":false},"axis":{"values":[0,20,40,60,80,100,120,140],"labels":false},"title":null},
"order":{"field":"y","type":"quantitative"},
"color":{"field":"g","type":"nominal","scale":{"domain":["Selected","Rejected"],"range":["#1f77b4","#ff7f0e"]},
"legend":{"title":null,"orient":"top-right","offset":18,"padding":12,"symbolType":"M-2.91,-1H2.91V1H-2.91Z","symbolSize":484,"symbolOffset":18,"symbolStrokeWidth":3,"symbolFillColor":"transparent","labelOffset":43,"rowPadding":12,"labelFont":"DejaVu Sans","labelFontSize":31,"labelColor":"black","fillColor":"rgba(255,255,255,0.8)","strokeColor":"#cccccc","cornerRadius":6}}}},
{"width":18,"height":718,
"data":{"values":[{"lo":1,"hi":1210}]},
"mark":{"type":"rect","stroke":"black","strokeWidth":2.4,"fill":{"gradient":"linear","x1":0,"y1":1,"x2":0,"y2":0,"stops":[{"offset":0,"color":"#440154"},{"offset":0.05,"color":"#471365"},{"offset":0.1,"color":"#482475"},{"offset":0.15,"color":"#463480"},{"offset":0.2,"color":"#414487"},{"offset":0.25,"color":"#3b528b"},{"offset":0.3,"color":"#355f8d"},{"offset":0.35,"color":"#2f6c8e"},{"offset":0.4,"color":"#2a788e"},{"offset":0.45,"color":"#25848e"},{"offset":0.5,"color":"#21918c"},{"offset":0.55,"color":"#1e9c89"},{"offset":0.6,"color":"#22a884"},{"offset":0.65,"color":"#2fb47c"},{"offset":0.7,"color":"#44bf70"},{"offset":0.75,"color":"#5ec962"},{"offset":0.8,"color":"#7ad151"},{"offset":0.85,"color":"#9bd93c"},{"offset":0.9,"color":"#bddf26"},{"offset":0.95,"color":"#dfe318"},{"offset":1,"color":"#fde725"}]}},
"encoding":{
"y":{"field":"lo","type":"quantitative","scale":{"type":"log","domain":[1,1210],"nice":false},
"axis":{"orient":"right","grid":false,"labelPadding":10,"values":[1,2,3,4,5,6,7,8,9,10,20,30,40,50,60,70,80,90,100,200,300,400,500,600,700,800,900,1000],
"labelExpr":"datum.value == 1 ? '10⁰' : datum.value == 10 ? '10¹' : datum.value == 100 ? '10²' : datum.value == 1000 ? '10³' : ''",
"tickSize":{"condition":{"test":"datum.value == 1 || datum.value == 10 || datum.value == 100 || datum.value == 1000","value":10.5},"value":6},
"tickWidth":{"condition":{"test":"datum.value == 1 || datum.value == 10 || datum.value == 100 || datum.value == 1000","value":2.4},"value":1.8}},"title":null},
"y2":{"field":"hi"}}}
],"spacing":10,"bounds":"flush","resolve":{"scale":{"color":"independent"},"legend":{"color":"independent"}}}
],
"config":{
"font":"DejaVu Sans",
"view":{"stroke":"black","strokeWidth":2.4},
"legend":{"strokeWidth":2.4},
"axis":{"labelFont":"DejaVu Sans","labelFontSize":31,"labelColor":"black","titleFont":"DejaVu Sans","titleFontSize":31,"titleFontWeight":"normal","titleColor":"black","tickColor":"black","tickWidth":2.4,"tickSize":10.5,"domain":false,"grid":true,"gridColor":"#b0b0b0","gridWidth":2.4,"labelFlush":false,"labelOverlap":false},
"axisX":{"labelPadding":11,"titlePadding":12},
"axisY":{"labelPadding":8,"titlePadding":20}
}
}
